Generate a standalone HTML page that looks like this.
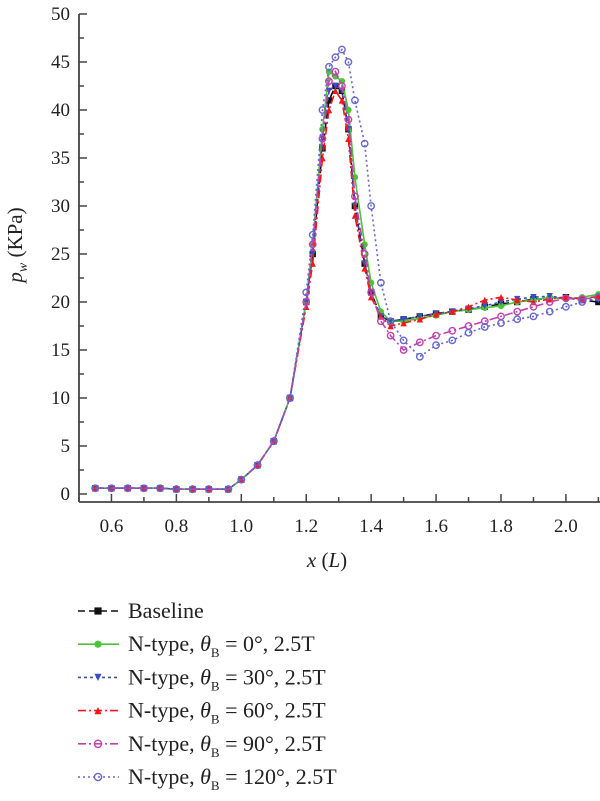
<!DOCTYPE html>
<html><head><meta charset="utf-8"><style>
body{margin:0;background:#fff;}
svg{display:block;font-family:"Liberation Serif",serif;}
</style></head><body>
<svg id="chart" width="600" height="801" viewBox="0 0 600 801">
<g id="axes"></g>
<g id="series"></g>
<g id="legend"></g>
</svg>
<script>
const xTicks=[0.6,0.8,1.0,1.2,1.4,1.6,1.8,2.0];
const yTicks=[0,5,10,15,20,25,30,35,40,45,50];
const seriesNames=["Baseline","N-type, θB = 0°, 2.5T","N-type, θB = 30°, 2.5T","N-type, θB = 60°, 2.5T","N-type, θB = 90°, 2.5T","N-type, θB = 120°, 2.5T"];
const xBase=[0.55,0.6,0.65,0.7,0.75,0.8,0.85,0.9,0.96,1.0,1.05,1.1,1.15,1.2,1.22,1.25,1.27,1.29,1.31,1.33,1.35,1.38,1.4,1.43,1.46,1.5,1.55,1.6,1.65,1.7,1.75,1.8,1.85,1.9,1.95,2.0,2.05,2.1];
const yBaseline=[0.6,0.6,0.6,0.6,0.6,0.5,0.5,0.5,0.5,1.5,3,5.5,10,20,25,36,41,42.5,42,38,30,24,21,18.5,18,18.2,18.5,18.8,19,19.2,19.5,19.8,20,20.3,20.3,20.5,20.2,20];
const y0deg=[0.6,0.6,0.6,0.6,0.6,0.5,0.5,0.5,0.5,1.5,3,5.5,10,20,26,38,44,43.5,43,40,33,26,22,19,18,18,18.3,18.6,19,19.2,19.4,19.6,20,20.2,20.5,20.3,20.5,20.8];
const y30deg=[0.6,0.6,0.6,0.6,0.6,0.5,0.5,0.5,0.5,1.5,3,5.5,10,20,25,37,42,42.5,42,38,30,24,21,18.5,18,18.2,18.5,18.8,19,19.3,19.6,20,20.3,20.5,20.6,20.4,20.2,20.2];
const y60deg=[0.6,0.6,0.6,0.6,0.6,0.5,0.5,0.5,0.5,1.5,3,5.5,10,19.5,24,35,40,42,41,37,29,23.5,20.5,18.5,17.5,17.8,18.2,18.7,19,19.5,20.2,20.5,20.2,20,20.3,20.5,20.3,20.6];
const y90deg=[0.6,0.6,0.6,0.6,0.6,0.5,0.5,0.5,0.5,1.5,3,5.5,10,20,26,37,43,44,42.5,39,31,25,21,18,16.5,15,15.8,16.5,17,17.5,18,18.5,19,19.5,20,20.4,20.3,20.5];
const y120deg=[0.6,0.6,0.6,0.6,0.6,0.5,0.5,0.5,0.5,1.5,3,5.5,10,21,27,40,44.5,45.5,46.3,45,41,36.5,30,22,18,16,14.3,15.5,16,16.8,17.4,17.8,18.2,18.5,19,19.5,20,20.5];
const ySeries=[yBaseline,y0deg,y30deg,y60deg,y90deg,y120deg];
const colors=["#111","#4ec23a","#3a4fc0","#f01818","#c040b0","#6666cc"];
const dashes=["7,4","","3,3","8,3,2,3","8,3,2,3","2,3"];
const markers=["square","circle","tri-down","tri-up","open-circle","open-circle"];
const seriesKeys=["baseline","0deg","30deg","60deg","90deg","120deg"];

const L=79,R=600,T=14,B=502,X0=0.5,X1=2.105;
const sx=v=>L+(v-X0)/(X1-X0)*(R-L);
const sy=v=>494-v*9.6;
const NS="http://www.w3.org/2000/svg";
function mk(tag,attrs,parent){const e=document.createElementNS(NS,tag);for(const k in attrs)e.setAttribute(k,attrs[k]);parent.appendChild(e);return e;}
const axes=document.getElementById('axes');
let e=mk('line',{x1:L,y1:T,x2:L,y2:B,stroke:'#444','stroke-width':1.8},axes);


e=mk('line',{x1:L,y1:B,x2:R,y2:B,stroke:'#444','stroke-width':1.8},axes);


for(let v=0;v<=50;v+=2.5){const y=sy(v);const major=v%5===0;
 mk('line',{x1:L,y1:y,x2:L+(major?8:5),y2:y,stroke:'#444','stroke-width':1.5},axes);}
yTicks.forEach(v=>{const t=mk('text',{x:70,y:sy(v)+6,'text-anchor':'end','font-size':19,fill:'#222'},axes);t.textContent=v;
 
 });
for(let v=0.5;v<=2.1001;v+=0.1){const x=sx(v);const major=Math.round(v*10)%2===0;
 mk('line',{x1:x,y1:B,x2:x,y2:B-(major?8:5),stroke:'#444','stroke-width':1.5},axes);}
xTicks.forEach(v=>{const t=mk('text',{x:sx(v),y:532,'text-anchor':'middle','font-size':19,fill:'#222'},axes);t.textContent=v.toFixed(1);
 
 });
let xt=mk('text',{x:327,y:567,'text-anchor':'middle','font-size':21,fill:'#222'},axes);
xt.innerHTML='<tspan font-style="italic">x</tspan> (<tspan font-style="italic">L</tspan>)';


let yt=mk('text',{x:0,y:0,'text-anchor':'middle','font-size':21,fill:'#222',transform:'translate(22,245) rotate(-90)'},axes);
yt.innerHTML='<tspan font-style="italic">p</tspan><tspan font-style="italic" font-size="14" dy="5">w</tspan><tspan dy="-5"> (KPa)</tspan>';



function marker(g,type,x,y,c,s){
 if(type==='square')return mk('rect',{x:x-s,y:y-s,width:2*s,height:2*s,fill:c},g);
 if(type==='circle')return mk('circle',{cx:x,cy:y,r:s,fill:c},g);
 if(type==='tri-down')return mk('polygon',{points:`${x-s},${y-s} ${x+s},${y-s} ${x},${y+s}`,fill:c},g);
 if(type==='tri-up')return mk('polygon',{points:`${x-s},${y+s} ${x+s},${y+s} ${x},${y-s}`,fill:c},g);
 return mk('circle',{cx:x,cy:y,r:s,fill:'none',stroke:c,'stroke-width':1.4},g);
}
const sg=document.getElementById('series');
ySeries.forEach((ys,i)=>{
 const g=mk('g',{},sg);
 
 
 const d=ys.map((v,j)=>(j?'L':'M')+sx(xBase[j]).toFixed(1)+','+sy(v).toFixed(1)).join('');
 const p=mk('path',{d:d,fill:'none',stroke:colors[i],'stroke-width':1.6,'stroke-dasharray':dashes[i]},g);
 
 
 ys.forEach((v,j)=>{const m=marker(g,markers[i],sx(xBase[j]),sy(v),colors[i],3.2);
  
  });
});
const lg=document.getElementById('legend');
seriesNames.forEach((n,i)=>{
 const y=611+33.2*i;
 const g=mk('g',{},lg);
 
 
 mk('line',{x1:78,y1:y,x2:119,y2:y,stroke:colors[i],'stroke-width':1.6,'stroke-dasharray':dashes[i]},g);
 marker(g,markers[i],98,y,colors[i],3.6);
 const t=mk('text',{x:128,y:y+7,'font-size':22,fill:'#222'},g);
 if(i===0)t.textContent='Baseline';
 else{const parts=n.match(/θB = (\d+°), 2.5T/);
  t.innerHTML='N-type, <tspan font-style="italic">θ</tspan><tspan font-size="13" dy="6">B</tspan><tspan dy="-6"> = '+parts[1]+', 2.5T</tspan>';}
});
</script>
</body></html>
